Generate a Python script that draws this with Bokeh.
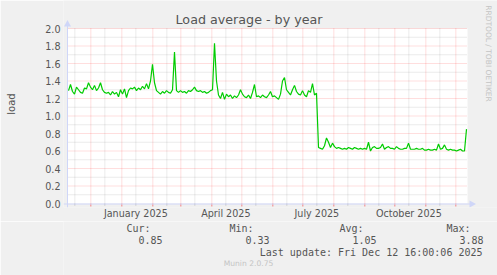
import pandas as pd
from bokeh.plotting import figure
from bokeh.layouts import column
from bokeh.models import (Range1d, FixedTicker, PrintfTickFormatter, DatetimeTickFormatter,
                          Label, PolyAnnotation, BoxAnnotation)
from bokeh.embed import file_html
from bokeh.resources import INLINE
from math import pi

# ---------------- data ----------------
title_text = "Load average - by year"
y_label = "load"
series_name = "load"
first_sample = "2024-11-08 16:00"
sample_step = "2D"
load_values = [
    1.29, 1.36, 1.28, 1.25, 1.33, 1.30, 1.27, 1.26, 1.32, 1.31,
    1.38, 1.33, 1.30, 1.35, 1.29, 1.32, 1.38, 1.30, 1.27, 1.26,
    1.27, 1.24, 1.28, 1.25, 1.27, 1.22, 1.30, 1.25, 1.31, 1.21,
    1.29, 1.32, 1.31, 1.33, 1.29, 1.32, 1.30, 1.34, 1.31, 1.37,
    1.31, 1.40, 1.59, 1.38, 1.29, 1.27, 1.25, 1.28, 1.26, 1.29,
    1.27, 1.26, 1.30, 1.73, 1.29, 1.27, 1.29, 1.27, 1.28, 1.26,
    1.29, 1.28, 1.30, 1.33, 1.29, 1.28, 1.29, 1.27, 1.28, 1.26,
    1.27, 1.29, 1.30, 1.83, 1.40, 1.24, 1.20, 1.27, 1.19, 1.25,
    1.22, 1.24, 1.20, 1.23, 1.21, 1.24, 1.30, 1.25, 1.22, 1.21,
    1.24, 1.20, 1.27, 1.36, 1.22, 1.23, 1.21, 1.24, 1.22, 1.21,
    1.24, 1.28, 1.22, 1.23, 1.21, 1.19, 1.25, 1.40, 1.44, 1.30,
    1.27, 1.24, 1.30, 1.35, 1.28, 1.25, 1.24, 1.29, 1.24, 1.22,
    1.29, 1.27, 1.37, 1.24, 1.26, 0.64, 0.63, 0.62, 0.66, 0.75,
    0.70, 0.64, 0.69, 0.65, 0.63, 0.64, 0.63, 0.62, 0.63, 0.62,
    0.64, 0.63, 0.62, 0.64, 0.63, 0.62, 0.63, 0.62, 0.63, 0.62,
    0.70, 0.60, 0.64, 0.65, 0.63, 0.63, 0.64, 0.68, 0.62, 0.64,
    0.65, 0.63, 0.63, 0.62, 0.65, 0.63, 0.62, 0.62, 0.63, 0.63,
    0.69, 0.62, 0.62, 0.62, 0.63, 0.62, 0.62, 0.63, 0.61, 0.61,
    0.62, 0.61, 0.61, 0.62, 0.61, 0.68, 0.62, 0.63, 0.67, 0.62,
    0.61, 0.62, 0.61, 0.61, 0.60, 0.61, 0.62, 0.60, 0.60, 0.85,
]
range_start = "2024-11-07 16:00"
range_end = "2025-12-12 16:00"
y_ticks = [0.0, 0.2, 0.4, 0.6, 0.8, 1.0, 1.2, 1.4, 1.6, 1.8, 2.0]
y_minor = [0.1, 0.3, 0.5, 0.7, 0.9, 1.1, 1.3, 1.5, 1.7, 1.9]
label_dates = ["2025-01-15", "2025-04-15", "2025-07-15", "2025-10-15"]
stat_headers = ["Cur:", "Min:", "Avg:", "Max:"]
stat_values = ["0.85", "0.33", "1.05", "3.88"]
last_update = "Last update: Fri Dec 12 16:00:06 2025"
footer = "Munin 2.0.75"
watermark = "RRDTOOL / TOBI OETIKER"

# ---------------- style ----------------
W, H = 497, 275
TOP_H = 221
BACK = "#F0F0F0"
FONT = "#555555"
AXIS = "#CFD6F8"
LINE = "#00CC00"
SANS = "DejaVu Sans"
MONO = "DejaVu Sans Mono"
DAY = 86400000.0
PX_Y = 2.0 / 175.0          # value units per pixel (175 px for 0..2)


def ms(ts):
    return pd.Timestamp(ts).timestamp() * 1000.0


rs, re_ = ms(range_start), ms(range_end)
dates = [ms(d) for d in pd.date_range(first_sample, periods=len(load_values), freq=sample_step)]
month_starts = [ms(d) for d in pd.date_range("2024-12-01", "2025-12-01", freq="MS")]
mid_months = [ms(d + pd.Timedelta(days=14)) for d in pd.date_range("2024-11-01", "2025-11-01", freq="MS")]
label_ms = [ms(d) for d in label_dates]

# frame: canvas x 63..497, y 0..207 ; data area 67..467 x 28..203
p = figure(width=W, height=TOP_H, output_backend="svg", toolbar_location=None, title=None,
           x_axis_type="datetime",
           x_range=Range1d(rs - 4 * DAY, rs + 430 * DAY),
           y_range=Range1d(-4 * PX_Y, 203 * PX_Y))
p.min_border_left = 63
p.min_border_right = 0
p.min_border_top = 0
p.min_border_bottom = TOP_H - 207
p.border_fill_color = BACK
p.background_fill_color = BACK
p.outline_line_color = None
p.grid.visible = False

# white canvas of the graph
p.add_layout(BoxAnnotation(left=rs, right=re_, bottom=0, top=2, fill_color="#FFFFFF",
                           fill_alpha=1.0, line_color=None, level="image"))

# grid (dotted, rrdtool style)
GRID_GREY = dict(line_color="#8C8C8C", line_alpha=0.36, line_dash="1 1", line_width=1)
GRID_RED = dict(line_color="#FF0000", line_alpha=0.26, line_dash="1 1", line_width=1)
p.segment(x0=[rs] * len(y_minor), y0=y_minor, x1=[re_] * len(y_minor), y1=y_minor, **GRID_GREY)
p.segment(x0=mid_months, y0=[0] * len(mid_months), x1=mid_months, y1=[2] * len(mid_months), **GRID_GREY)
ymaj = [v for v in y_ticks if v > 0]
p.segment(x0=[rs] * len(ymaj), y0=ymaj, x1=[re_] * len(ymaj), y1=ymaj, **GRID_RED)
p.segment(x0=month_starts, y0=[0] * len(month_starts), x1=month_starts, y1=[2] * len(month_starts), **GRID_RED)
# small ticks under the time axis
p.segment(x0=mid_months, y0=[0] * len(mid_months), x1=mid_months, y1=[-2 * PX_Y] * len(mid_months),
          line_color="#8C8C8C", line_alpha=0.5)
p.segment(x0=month_starts, y0=[0] * len(month_starts), x1=month_starts,
          y1=[-3 * PX_Y] * len(month_starts), line_color="#FF0000", line_alpha=0.45)

# data line
p.line(dates, load_values, line_color=LINE, line_width=1.2)

# y axis
ya = p.yaxis[0]
ya.ticker = FixedTicker(ticks=y_ticks)
ya.formatter = PrintfTickFormatter(format="%.1f")
ya.axis_line_color = None
ya.major_tick_line_color = None
ya.minor_tick_line_color = None
ya.major_tick_out = 0
ya.major_tick_in = 0
ya.major_label_standoff = 3
ya.major_label_text_font = SANS
ya.major_label_text_font_size = "9.6px"
ya.major_label_text_color = FONT
ya.axis_label = y_label
ya.axis_label_text_font = SANS
ya.axis_label_text_font_size = "10px"
ya.axis_label_text_font_style = "normal"
ya.axis_label_text_color = FONT
ya.axis_label_standoff = 25

# x axis
xa = p.xaxis[0]
xa.ticker = FixedTicker(ticks=label_ms)
xa.formatter = DatetimeTickFormatter(days="%B %Y", months="%B %Y", years="%B %Y",
                                     hours="%B %Y", hourmin="%B %Y")
xa.axis_line_color = None
xa.major_tick_line_color = None
xa.minor_tick_line_color = None
xa.major_tick_out = 0
xa.major_tick_in = 0
xa.major_label_standoff = 0
xa.major_label_text_font = SANS
xa.major_label_text_font_size = "9.6px"
xa.major_label_text_color = FONT


def poly(fig, xs, ys, color=AXIS):
    fig.add_layout(PolyAnnotation(xs=xs, ys=ys, xs_units="canvas", ys_units="canvas",
                                  fill_color=color, fill_alpha=1.0, line_color=None, level="overlay"))


# axis lines and arrows
poly(p, [63, 471, 471, 63], [203, 203, 204, 204])
poly(p, [66.5, 67.5, 67.5, 66.5], [24, 24, 207, 207])
poly(p, [469, 469, 475.5], [200, 207, 203.5])
poly(p, [63.5, 70.5, 67], [26, 26, 19.5])


def text(fig, t, x, y, size, font=SANS, color=FONT, align="left", angle=0.0):
    fig.add_layout(Label(x=x, y=y, x_units="canvas", y_units="canvas", text=t,
                         text_font=font, text_font_size=f"{size}px", text_color=color,
                         text_align=align, text_baseline="middle", angle=angle))


text(p, title_text, 248.5, 19, 12.7, align="center")
text(p, watermark, 488, 53, 7.5, color="#C4C4C4", align="center", angle=-pi / 2)

# ---------------- legend strip ----------------
q = figure(width=W, height=H - TOP_H, output_backend="svg", toolbar_location=None, title=None,
           x_range=Range1d(0, W), y_range=Range1d(0, H - TOP_H),
           x_axis_location=None, y_axis_location=None)
q.min_border_left = q.min_border_right = q.min_border_top = q.min_border_bottom = 0
q.border_fill_color = BACK
q.background_fill_color = BACK
q.outline_line_color = None
q.grid.visible = False
o = TOP_H
q.add_layout(BoxAnnotation(left=14, right=20, top=237 - o, bottom=243 - o,
                           left_units="canvas", right_units="canvas",
                           top_units="canvas", bottom_units="canvas",
                           fill_color=LINE, fill_alpha=1.0, line_color=None))
text(q, series_name, 27, 239.5 - o, 10, font=MONO)
header_right = [150, 253, 363, 470]
value_right = [162, 269, 376, 483]
for h, v, xh, xv in zip(stat_headers, stat_values, header_right, value_right):
    text(q, h, xh, 227.5 - o, 10, font=MONO, align="right")
    text(q, v, xv, 239.5 - o, 10, font=MONO, align="right")
text(q, last_update, 482, 251.7 - o, 10, font=MONO, align="right")
text(q, footer, 248, 263 - o, 7.6, color="#C4C4C4", align="center")

layout = column(p, q, spacing=0)
open("out.html", "w").write(file_html(layout, INLINE))
